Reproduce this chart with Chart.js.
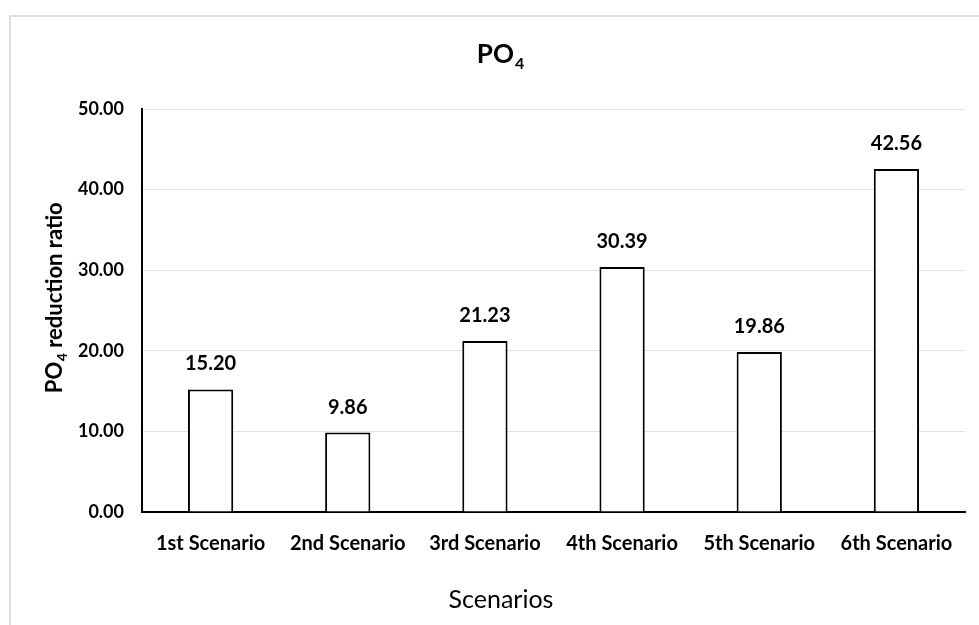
<!DOCTYPE html>
<html>
<head>
<meta charset="utf-8">
<script src="https://cdn.jsdelivr.net/npm/chart.js@4/dist/chart.umd.min.js"></script>
<style>
html,body{margin:0;padding:0;background:#fff;}
#wrap{width:979px;height:625px;position:relative;}
</style>
</head>
<body>
<div id="wrap"><canvas id="c" width="979" height="625"></canvas></div>
<script>
const categories = ["1st Scenario","2nd Scenario","3rd Scenario","4th Scenario","5th Scenario","6th Scenario"];
const values = [15.20, 9.86, 21.23, 30.39, 19.86, 42.56];
const yTicks = [0, 10, 20, 30, 40, 50];
const titleMain = "PO";
const titleSub = "4";
const yTitleMain = "PO";
const yTitleSub = "4";
const yTitleRest = " reduction ratio";
const xTitle = "Scenarios";

const FONT = "Lato, 'Open Sans', sans-serif";

const decor = {
  id: 'decor',
  beforeDraw(chart) {
    const ctx = chart.ctx;
    ctx.save();
    ctx.fillStyle = '#ffffff';
    ctx.fillRect(0, 0, chart.width, chart.height);
    ctx.strokeStyle = '#dedede';
    ctx.lineWidth = 2;
    ctx.strokeRect(10, 16, 1100, 800);
    ctx.restore();
  },
  afterDraw(chart) {
    const ctx = chart.ctx;
    ctx.save();
    ctx.fillStyle = '#000';
    // Title with subscript
    ctx.textBaseline = 'alphabetic';
    ctx.font = "bold 26px " + FONT;
    const w1 = ctx.measureText(titleMain).width;
    ctx.font = "bold 16px " + FONT;
    const w2 = ctx.measureText(titleSub).width;
    let tx = 500 - (w1 + w2) / 2;
    ctx.font = "bold 26px " + FONT;
    ctx.textAlign = 'left';
    ctx.fillText(titleMain, tx, 63);
    ctx.font = "bold 16px " + FONT;
    ctx.fillText(titleSub, tx + w1 + 1, 69);

    // Y title rotated
    ctx.save();
    ctx.translate(62, 298);
    ctx.rotate(-Math.PI / 2);
    ctx.font = "bold 22px " + FONT;
    const a = ctx.measureText(yTitleMain).width;
    ctx.font = "bold 14px " + FONT;
    const b = ctx.measureText(yTitleSub).width;
    ctx.font = "bold 22px " + FONT;
    const c = ctx.measureText(yTitleRest).width;
    let sx = -(a + b + c) / 2;
    ctx.textAlign = 'left';
    ctx.font = "bold 22px " + FONT;
    ctx.fillText(yTitleMain, sx, 0);
    ctx.font = "bold 14px " + FONT;
    ctx.fillText(yTitleSub, sx + a + 0.5, 5);
    ctx.font = "bold 22px " + FONT;
    ctx.fillText(yTitleRest, sx + a + b + 0.5, 0);
    ctx.restore();

    // X title
    ctx.font = "25px " + FONT;
    ctx.textAlign = 'center';
    ctx.fillText(xTitle, 501, 608);

    // Data labels
    const meta = chart.getDatasetMeta(0);
    ctx.font = "bold 20px " + FONT;
    ctx.textAlign = 'center';
    meta.data.forEach((bar, i) => {
      ctx.fillText(values[i].toFixed(2), bar.x, bar.y - 19);
    });
    ctx.restore();
  }
};

new Chart(document.getElementById('c'), {
  type: 'bar',
  data: {
    labels: categories,
    datasets: [{
      data: values,
      backgroundColor: '#ffffff',
      borderColor: '#000000',
      borderWidth: 2,
      barPercentage: 0.33,
      categoryPercentage: 1.0
    }]
  },
  options: {
    responsive: false,
    animation: false,
    devicePixelRatio: 1,
    layout: { padding: { left: 70, right: 14, top: 109, bottom: 0 } },
    plugins: { legend: { display: false }, title: { display: false }, tooltip: { enabled: false } },
    scales: {
      x: {
        grid: { display: false, drawTicks: false },
        border: { color: '#000', width: 2 },
        ticks: { color: '#000', font: { family: FONT, size: 20, weight: 'bold' }, padding: 20, maxRotation: 0, autoSkip: false },
        afterFit(s) { s.height = 113; }
      },
      y: {
        min: 0, max: 50,
        afterBuildTicks(s) { s.ticks = yTicks.map(v => ({ value: v })); },
        grid: { color: '#e0e0e0', lineWidth: 1, drawTicks: false },
        border: { color: '#000', width: 2 },
        ticks: { color: '#000', font: { family: FONT, size: 18, weight: 'bold' }, padding: 18, callback: v => Number(v).toFixed(2) },
        afterFit(s) { s.width = 72; }
      }
    }
  },
  plugins: [decor]
});
</script>
</body>
</html>
